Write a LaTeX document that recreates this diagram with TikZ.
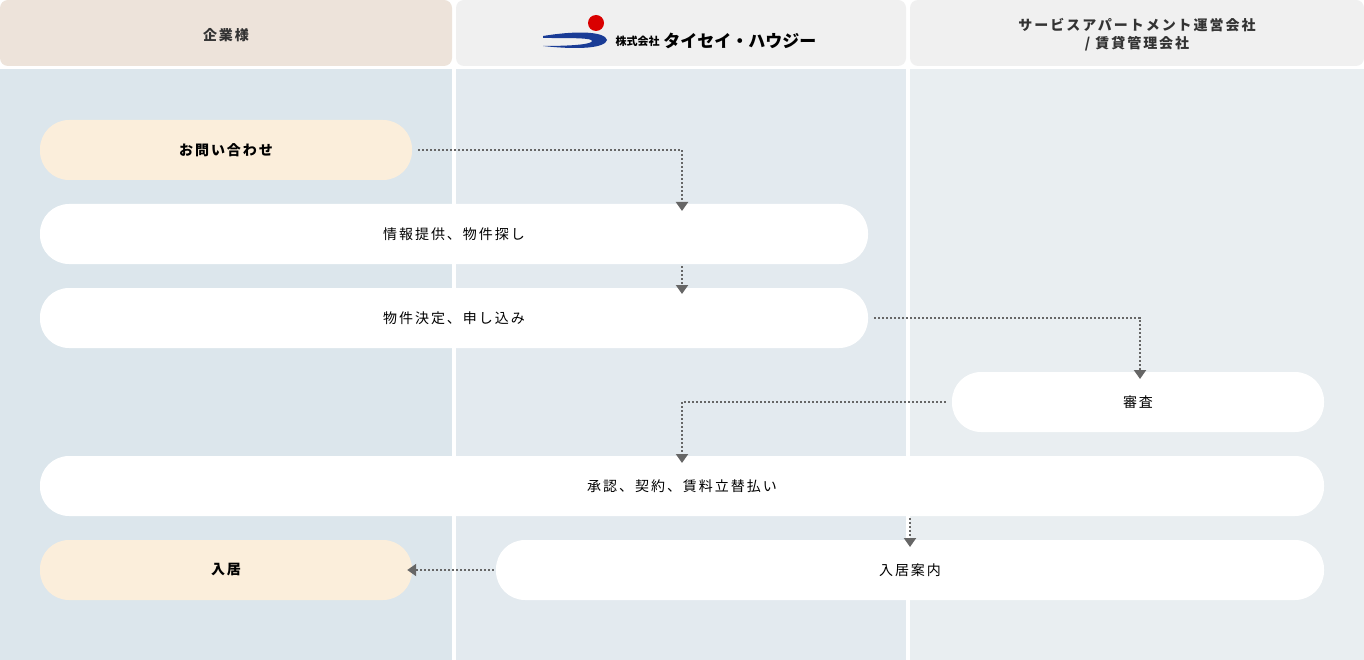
\documentclass[tikz,border=0pt]{standalone}
\usepackage{fontspec}
\setmainfont{Noto Sans CJK JP}[LetterSpace=14]
\usetikzlibrary{positioning,arrows.meta}
\definecolor{colA}{HTML}{DCE6EC}
\definecolor{colB}{HTML}{E3EAEF}
\definecolor{colC}{HTML}{E9EEF1}
\definecolor{headA}{HTML}{EDE3DA}
\definecolor{headB}{HTML}{F0F0F0}
\definecolor{pillA}{HTML}{FBEEDB}
\definecolor{logoBlue}{HTML}{1A3C96}
\begin{document}
\begin{tikzpicture}[x=1pt, y=-1pt,
    pill/.style={rectangle, rounded corners=29pt, fill=white, minimum height=60pt, text centered, font=\fontsize{14}{16}\selectfont, inner sep=0pt},
    client/.style={pill, fill=pillA, font=\fontsize{14}{16}\selectfont\bfseries},
    head/.style={font=\fontsize{14}{18}\selectfont\bfseries, align=center, text=black!80},
    arrow/.style={-{Triangle[width=12pt,length=9pt]}, draw=black!60, line width=2pt, dash pattern=on 2pt off 2pt}
]
    % Background
    \fill[white] (0,0) rectangle (1364,660);
    \fill[colA] (0,69) rectangle (452,660);
    \fill[colB] (456,69) rectangle (906,660);
    \fill[colC] (910,69) rectangle (1364,660);
    \fill[headA, rounded corners=8pt] (0,0) rectangle (452,66);
    \fill[headB, rounded corners=8pt] (456,0) rectangle (906,66);
    \fill[headB, rounded corners=8pt] (910,0) rectangle (1364,66);

    % Headers
    \node[head] (hclient) at (226,35) {企業様};
    \node[head] (hother) at (1137,35) {サービスアパートメント運営会社\\/ 賃貸管理会社};
    \fill[red!85!black] (596,23) circle (8);
    \fill[logoBlue] (543,36) .. controls (580,30) and (605,32) .. (607,40)
        .. controls (605,48) and (580,50) .. (543,46)
        .. controls (575,46) and (592,44) .. (592,41)
        .. controls (592,38) and (575,38) .. (543,38) -- cycle;
    \node[font=\fontsize{11}{12}\selectfont\bfseries\addfontfeature{LetterSpace=0}, anchor=west] (hcorp) at (612,41) {株式会社};
    \node[font=\fontsize{17}{18}\selectfont\bfseries\addfontfeature{LetterSpace=0}, anchor=west, inner sep=0pt] (hname) at (hcorp.east) {タイセイ・ハウジー};

    % Nodes
    \node[client, minimum width=372pt] (inquiry) at (226,150) {お問い合わせ};
    \node[pill, minimum width=828pt] (search) at (454,234) {情報提供、物件探し};
    \node[pill, minimum width=828pt] (apply) at (454,318) {物件決定、申し込み};
    \node[pill, minimum width=372pt] (screen) at (1138,402) {審査};
    \node[pill, minimum width=1284pt] (contract) at (682,486) {承認、契約、賃料立替払い};
    \node[client, minimum width=372pt] (movein) at (226,570) {入居};
    \node[pill, minimum width=828pt] (guide) at (910,570) {入居案内};

    % Arrows
    \draw[arrow] ([xshift=6pt]inquiry.east) -| (682,211);
    \draw[arrow] (682,266) -- (682,294);
    \draw[arrow] ([xshift=6pt]apply.east) -| (1140,379);
    \draw[arrow] ([xshift=-6pt]screen.west) -| (682,463);
    \draw[arrow] (910,518) -- (910,547);
    \draw[arrow] ([xshift=-2pt]guide.west) -- ([xshift=-5pt]movein.east);
\end{tikzpicture}
\end{document}
